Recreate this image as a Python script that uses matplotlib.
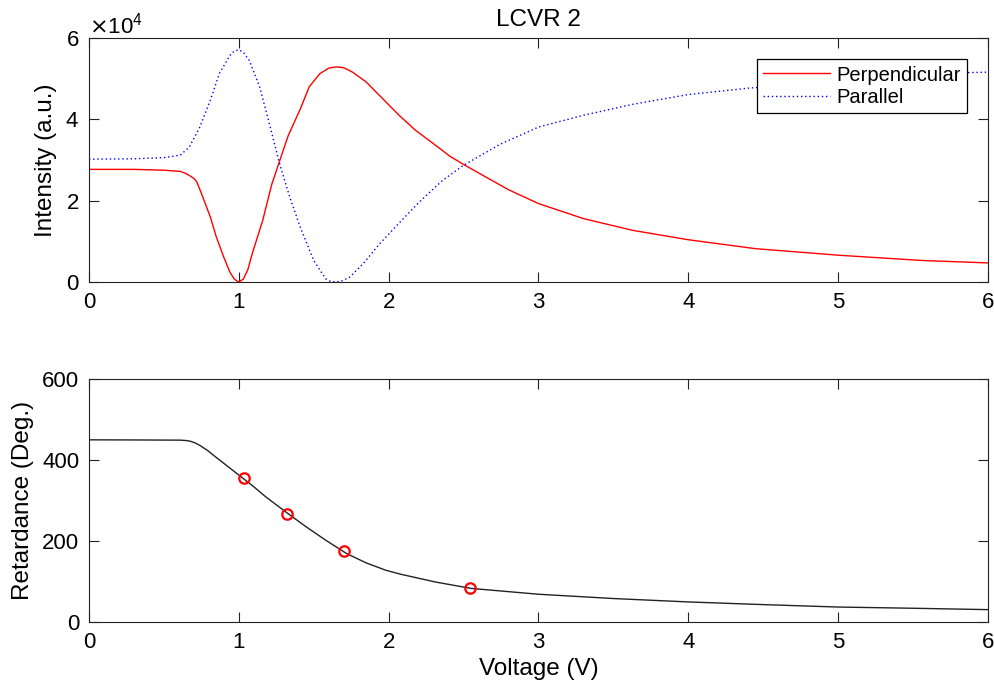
import numpy as np
import matplotlib
matplotlib.use('Agg')
from matplotlib import pyplot as plt
from matplotlib.ticker import ScalarFormatter

plt.rcParams['font.family'] = ['Liberation Sans', 'DejaVu Sans']

# intensity curves (values in units of 1e4)
v_perp = [0.0, 0.3, 0.5, 0.61, 0.64, 0.67, 0.70, 0.72, 0.76, 0.81, 0.85, 0.90,
          0.94, 0.97, 1.00, 1.03, 1.06, 1.09, 1.16, 1.22, 1.27, 1.33, 1.41,
          1.47, 1.54, 1.60, 1.65, 1.70, 1.76, 1.85, 1.96, 2.07, 2.18, 2.30,
          2.41, 2.51, 2.65, 2.80, 3.00, 3.30, 3.63, 4.00, 4.45, 5.00, 5.56,
          6.00]
i_perp = [2.77, 2.77, 2.75, 2.72, 2.68, 2.62, 2.55, 2.46, 2.09, 1.60, 1.11, 0.61,
          0.25, 0.07, 0.00, 0.07, 0.30, 0.70, 1.52, 2.40, 2.95, 3.60, 4.25,
          4.80, 5.12, 5.26, 5.29, 5.27, 5.16, 4.92, 4.51, 4.10, 3.73, 3.40,
          3.09, 2.87, 2.58, 2.27, 1.93, 1.56, 1.27, 1.04, 0.82, 0.66, 0.53,
          0.47]

v_par = [0.0, 0.3, 0.5, 0.61, 0.67, 0.74, 0.81, 0.87, 0.94, 0.97, 1.00, 1.03,
         1.07, 1.14, 1.21, 1.27, 1.34, 1.41, 1.50, 1.58, 1.61, 1.65, 1.69,
         1.74, 1.83, 1.94, 2.07, 2.20, 2.36, 2.50, 2.74, 3.00, 3.30, 3.63,
         4.00, 4.41, 4.80, 5.20, 5.60, 5.87, 6.00]
i_par = [3.02, 3.03, 3.06, 3.12, 3.32, 3.81, 4.47, 5.12, 5.57, 5.68, 5.71, 5.65,
         5.45, 4.79, 3.81, 2.94, 2.09, 1.35, 0.53, 0.08, 0.02, 0.00, 0.03,
         0.12, 0.45, 0.94, 1.45, 1.95, 2.50, 2.87, 3.38, 3.81, 4.10, 4.37,
         4.61, 4.77, 4.88, 4.99, 5.09, 5.15, 5.16]

# retardance fit curve and measured points
v_ret = [0.0, 0.3, 0.61, 0.65, 0.68, 0.71, 0.74, 0.79, 0.83, 0.92, 1.01, 1.10,
         1.18, 1.32, 1.45, 1.58, 1.72, 1.85, 1.98, 2.08, 2.31, 2.55, 3.0, 3.5,
         4.0, 4.5, 5.0, 5.5, 6.0]
ret = [449.8, 449.5, 449, 448, 446, 442, 436, 424, 412, 386, 360, 334,
       309, 270, 235, 202, 169, 146, 128, 118, 99, 83, 68.6, 58,
       49.6, 43, 37, 34, 30.6]

v_meas = [1.033, 1.32, 1.70, 2.545]
ret_meas = [356, 266, 175, 83]

fig = plt.figure(figsize=(9.95, 6.95), dpi=100)
ax1 = fig.add_axes([0.0894, 0.5942, 0.9035, 0.3511])
ax2 = fig.add_axes([0.0894, 0.1050, 0.9035, 0.3497])

ax1.plot(v_perp, np.array(i_perp) * 1e4, color=(1, 0, 0), lw=1.0, label='Perpendicular')
ax1.plot(v_par, np.array(i_par) * 1e4, color=(0, 0, 1), lw=1.0, ls=(0, (1, 2)), label='Parallel')
ax1.set_xlim(0, 6)
ax1.set_ylim(0, 6e4)
ax1.set_yticks([0, 2e4, 4e4, 6e4])
fmt = ScalarFormatter(useMathText=True)
fmt.set_powerlimits((0, 0))
ax1.yaxis.set_major_formatter(fmt)
ax1.set_ylabel('Intensity (a.u.)', fontsize=17.5, labelpad=6)
ax1.set_title('LCVR 2', fontsize=17.5, pad=9)
leg = ax1.legend(loc='upper right', bbox_to_anchor=(0.977, 0.912), fontsize=14.5,
                 fancybox=False, framealpha=1, edgecolor='black',
                 handlelength=3.3, handletextpad=0.35, borderpad=0.3,
                 labelspacing=0.15, borderaxespad=0)
leg.get_frame().set_linewidth(0.9)

ax2.plot(v_ret, ret, color='#222222', lw=1.0)
ax2.plot(v_meas, ret_meas, 'o', mfc='none', mec=(1, 0, 0), mew=1.6, ms=7.5)
ax2.set_xlim(0, 6)
ax2.set_ylim(0, 600)
ax2.set_yticks([0, 200, 400, 600])
ax2.set_xlabel('Voltage (V)', fontsize=17.5)
ax2.set_ylabel('Retardance (Deg.)', fontsize=17.5, labelpad=6)

for ax in (ax1, ax2):
    ax.set_xticks(range(7))
    ax.tick_params(direction='in', length=7, width=0.8, labelsize=16,
                   top=True, right=True, pad=7, colors='#222222', labelcolor='black')
    for s in ax.spines.values():
        s.set_linewidth(0.8)
        s.set_color('#222222')
ax1.yaxis.get_offset_text().set_fontsize(16)

fig.savefig('out.png', dpi=100)
